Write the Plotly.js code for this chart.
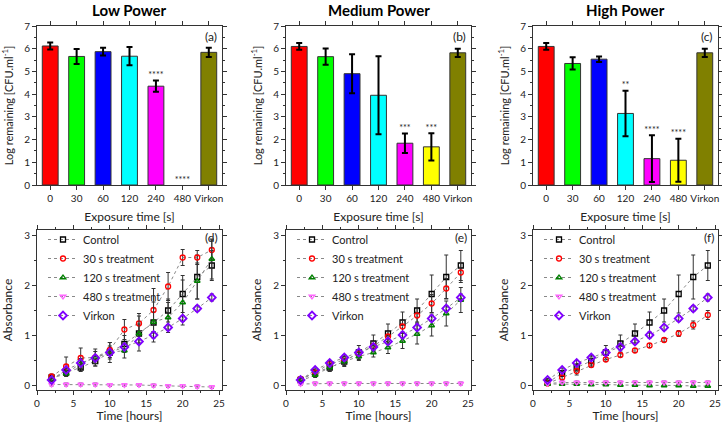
<!DOCTYPE html>
<html>
<head>
<meta charset="utf-8">
<script src="https://cdn.plot.ly/plotly-3.0.1.min.js"></script>
<style>
  html, body { margin: 0; padding: 0; background: #fff; }
  #chart { width: 722px; height: 423px; }
</style>
</head>
<body>
<div id="chart"></div>
<script>
const categories = ["0", "30", "60", "120", "240", "480", "Virkon"];
const barColors = ["#ff0000", "#00ff00", "#0000ff", "#00ffff", "#ff00ff", "#ffff00", "#808000"];

const lowMean = [6.12, 5.66, 5.87, 5.67, 4.35, null, 5.84];
const lowErr = [0.15, 0.33, 0.17, 0.40, 0.25, null, 0.20];
const lowSig = ["", "", "", "", "****", "****", ""];

const medMean = [6.10, 5.65, 4.90, 3.95, 1.84, 1.68, 5.82];
const medErr = [0.15, 0.36, 0.86, 1.72, 0.43, 0.60, 0.18];
const medSig = ["", "", "", "", "***", "***", ""];

const highMean = [6.10, 5.35, 5.54, 3.15, 1.16, 1.09, 5.82];
const highErr = [0.15, 0.27, 0.12, 1.00, 1.03, 0.95, 0.18];
const highSig = ["", "", "", "**", "****", "****", ""];

const timeH = [2, 4, 6, 8, 10, 12, 14, 16, 18, 20, 22, 24];
const seriesNames = ["Control", "30 s treatment", "120 s treatment", "480 s treatment", "Virkon"];

// panel (d) low power
const ctrlD = [0.15, 0.25, 0.35, 0.48, 0.65, 0.82, 1.03, 1.25, 1.49, 1.82, 2.16, 2.39];
const ctrlDErr = [0.04, 0.06, 0.08, 0.10, 0.13, 0.17, 0.19, 0.21, 0.23, 0.37, 0.44, 0.30];
const t30D = [0.17, 0.37, 0.54, 0.55, 0.70, 1.11, 1.23, 1.50, 1.97, 2.55, 2.55, 2.70];
const t30DErr = [0.05, 0.19, 0.20, 0.17, 0.15, 0.20, 0.20, 0.43, 0.28, 0.16, 0.14, 0.20];
const t120D = [0.13, 0.23, 0.43, 0.55, 0.65, 0.69, 1.03, 1.26, 1.35, 1.65, 2.08, 2.52];
const t120DErr = [0.04, 0.06, 0.10, 0.12, 0.20, 0.15, 0.35, 0.40, 0.30, 0.45, 0.36, 0.40];
const t480D = [0.01, 0.01, 0.01, 0.01, 0.00, 0.00, 0.00, -0.01, -0.02, -0.02, -0.03, -0.04];
const t480DErr = [0.03, 0.03, 0.03, 0.03, 0.03, 0.03, 0.03, 0.03, 0.03, 0.03, 0.03, 0.03];
const virD = [0.10, 0.30, 0.44, 0.54, 0.65, 0.76, 0.87, 1.00, 1.15, 1.33, 1.53, 1.75];
const virDErr = [0.03, 0.04, 0.05, 0.05, 0.06, 0.06, 0.06, 0.06, 0.06, 0.06, 0.06, 0.07];

// panel (e) medium power
const ctrlE = [0.10, 0.25, 0.35, 0.47, 0.65, 0.83, 1.03, 1.25, 1.49, 1.82, 2.16, 2.39];
const ctrlEErr = [0.04, 0.06, 0.08, 0.10, 0.14, 0.17, 0.19, 0.21, 0.23, 0.38, 0.44, 0.30];
const t30E = [0.12, 0.25, 0.42, 0.50, 0.62, 0.78, 0.97, 1.17, 1.39, 1.63, 1.93, 2.25];
const t30EErr = [0.04, 0.05, 0.06, 0.07, 0.08, 0.09, 0.10, 0.12, 0.15, 0.18, 0.20, 0.20];
const t120E = [0.08, 0.20, 0.35, 0.47, 0.57, 0.65, 0.75, 0.88, 1.02, 1.19, 1.43, 1.70];
const t120EErr = [0.04, 0.05, 0.07, 0.08, 0.08, 0.09, 0.12, 0.15, 0.20, 0.21, 0.25, 0.25];
const t480E = [0.02, 0.03, 0.03, 0.03, 0.03, 0.03, 0.03, 0.03, 0.03, 0.03, 0.03, 0.03];
const t480EErr = [0.03, 0.03, 0.03, 0.03, 0.03, 0.03, 0.03, 0.03, 0.03, 0.03, 0.03, 0.03];
const virE = [0.10, 0.30, 0.44, 0.55, 0.65, 0.76, 0.87, 1.00, 1.15, 1.33, 1.53, 1.75];
const virEErr = [0.03, 0.04, 0.05, 0.05, 0.06, 0.06, 0.06, 0.06, 0.06, 0.06, 0.06, 0.07];

// panel (f) high power
const ctrlF = [0.05, 0.23, 0.35, 0.48, 0.65, 0.83, 1.03, 1.25, 1.49, 1.82, 2.16, 2.39];
const ctrlFErr = [0.04, 0.06, 0.08, 0.10, 0.14, 0.17, 0.19, 0.21, 0.23, 0.38, 0.44, 0.30];
const t30F = [0.03, 0.15, 0.28, 0.40, 0.51, 0.60, 0.69, 0.79, 0.90, 1.03, 1.20, 1.40];
const t30FErr = [0.03, 0.05, 0.08, 0.05, 0.04, 0.04, 0.04, 0.04, 0.04, 0.06, 0.08, 0.09];
const t120F = [0.02, 0.02, 0.02, 0.01, 0.01, 0.00, 0.00, -0.01, -0.01, -0.01, -0.02, -0.02];
const t120FErr = [0.02, 0.02, 0.02, 0.02, 0.02, 0.02, 0.02, 0.02, 0.02, 0.02, 0.02, 0.02];
const t480F = [0.03, 0.05, 0.05, 0.05, 0.05, 0.05, 0.05, 0.05, 0.05, 0.05, 0.05, 0.05];
const t480FErr = [0.03, 0.03, 0.03, 0.03, 0.03, 0.03, 0.03, 0.03, 0.03, 0.03, 0.03, 0.03];
const virF = [0.10, 0.30, 0.44, 0.55, 0.65, 0.76, 0.87, 1.00, 1.15, 1.33, 1.53, 1.75];
const virFErr = [0.03, 0.04, 0.05, 0.05, 0.06, 0.06, 0.06, 0.06, 0.06, 0.06, 0.06, 0.07];

const FONT = "Lato, 'Open Sans', sans-serif";
const W = 722, H = 423;
const colX = [[37, 222], [286, 471], [533, 718]];
const topY = [26, 185];
const botY = [230, 390];

function xDom(i) { return [colX[i][0] / W, colX[i][1] / W]; }
function yDom(r) { return [(H - r[1]) / H, (H - r[0]) / H]; }

const markerStyles = [
    { symbol: "square-open", color: "#000000", size: 5, lw: 1.3 },
    { symbol: "circle-open", color: "#ff0000", size: 5, lw: 1.3 },
    { symbol: "triangle-up-open", color: "#008000", size: 5, lw: 1.3 },
    { symbol: "triangle-down-open", color: "#ff66ff", size: 5, lw: 1.3 },
    { symbol: "diamond-open", color: "#8000ff", size: 6, lw: 1.8 }
];

const panels = [
    { mean: lowMean, err: lowErr, sig: lowSig, title: "Low Power", label: "(a)",
      lines: [[ctrlD, ctrlDErr], [t30D, t30DErr], [t120D, t120DErr], [t480D, t480DErr], [virD, virDErr]], blabel: "(d)" },
    { mean: medMean, err: medErr, sig: medSig, title: "Medium Power", label: "(b)",
      lines: [[ctrlE, ctrlEErr], [t30E, t30EErr], [t120E, t120EErr], [t480E, t480EErr], [virE, virEErr]], blabel: "(e)" },
    { mean: highMean, err: highErr, sig: highSig, title: "High Power", label: "(c)",
      lines: [[ctrlF, ctrlFErr], [t30F, t30FErr], [t120F, t120FErr], [t480F, t480FErr], [virF, virFErr]], blabel: "(f)" }
];

const traces = [];
const annotations = [];
const layout = {
    width: W,
    height: H,
    margin: { l: 0, r: 0, t: 0, b: 0 },
    paper_bgcolor: "#ffffff",
    plot_bgcolor: "#ffffff",
    font: { family: FONT, size: 10, color: "#222" },
    showlegend: true,
    annotations: annotations
};

const axisCommon = {
    showline: true,
    linecolor: "#333",
    linewidth: 1,
    mirror: "allticks",
    ticks: "outside",
    ticklen: 4,
    tickcolor: "#333",
    showgrid: false,
    zeroline: false,
    tickfont: { family: FONT, size: 10, color: "#222" }
};

panels.forEach((p, i) => {
    const topXRef = i === 0 ? "x" : "x" + (i + 1);
    const topYRef = i === 0 ? "y" : "y" + (i + 1);
    const botX = "x" + (i + 4), botYa = "y" + (i + 4);
    const topXKey = i === 0 ? "xaxis" : "xaxis" + (i + 1);
    const topYKey = i === 0 ? "yaxis" : "yaxis" + (i + 1);
    const botXKey = "xaxis" + (i + 4);
    const botYKey = "yaxis" + (i + 4);

    traces.push({
        type: "bar",
        x: categories,
        y: p.mean,
        xaxis: topXRef,
        yaxis: topYRef,
        width: 0.6,
        marker: { color: barColors, line: { color: "#333", width: 1 } },
        error_y: { type: "data", array: p.err, visible: true, color: "#000", thickness: 2, width: 3 },
        showlegend: false,
        hoverinfo: "skip"
    });

    // significance stars above each bar's error bar
    const sigX = [], sigY = [], sigT = [];
    p.sig.forEach((s, k) => {
        if (!s) return;
        sigX.push(categories[k]);
        sigY.push((p.mean[k] || 0) + (p.err[k] || 0));
        sigT.push(s);
    });
    traces.push({
        type: "scatter",
        mode: "text",
        x: sigX,
        y: sigY,
        text: sigT,
        textposition: "top center",
        textfont: { family: FONT, size: 9, color: "#222" },
        xaxis: topXRef,
        yaxis: topYRef,
        showlegend: false,
        cliponaxis: false,
        hoverinfo: "skip"
    });

    layout[topXKey] = Object.assign({}, axisCommon, {
        domain: xDom(i),
        anchor: topYRef,
        type: "category",
        range: [-0.5, 6.5],
        title: { text: "Exposure time [s]", font: { family: FONT, size: 12, color: "#222" }, standoff: 9 }
    });
    layout[topYKey] = Object.assign({}, axisCommon, {
        domain: yDom(topY),
        anchor: topXRef,
        range: [0, 7],
        dtick: 1,
        minor: { dtick: 0.5, ticks: "outside", ticklen: 2, tickcolor: "#333" },
        title: { text: "Log remaining [CFU.ml<sup>-1</sup>]", font: { family: FONT, size: 11, color: "#222" }, standoff: 8 }
    });

    annotations.push({
        xref: "paper", yref: "paper",
        x: (colX[i][0] + colX[i][1]) / 2 / W, y: (H - 10) / H,
        xanchor: "center", yanchor: "middle",
        text: "<b>" + p.title + "</b>",
        showarrow: false,
        font: { family: FONT, size: 15, color: "#000" }
    });
    annotations.push({
        xref: "paper", yref: "paper",
        x: (colX[i][1] - 3) / W, y: (H - 36) / H,
        xanchor: "right", yanchor: "middle",
        text: p.label, showarrow: false,
        font: { family: FONT, size: 12, color: "#222" }
    });

    const legendKey = i === 0 ? "legend" : "legend" + (i + 1);
    p.lines.forEach((ln, k) => {
        const ms = markerStyles[k];
        traces.push({
            type: "scatter",
            mode: "lines+markers",
            name: seriesNames[k],
            x: timeH,
            y: ln[0],
            xaxis: botX,
            yaxis: botYa,
            legend: legendKey,
            line: { color: "#888", width: 1, dash: "dot" },
            marker: {
                symbol: ms.symbol,
                size: ms.size,
                color: ms.color,
                line: { color: ms.color, width: ms.lw }
            },
            error_y: {
                type: "data", array: ln[1], visible: true,
                color: k === 3 ? "#803080" : "#333", thickness: 1, width: 2
            },
            hoverinfo: "skip"
        });
    });

    layout[botXKey] = Object.assign({}, axisCommon, {
        domain: xDom(i),
        anchor: botYa,
        range: [0, 25.4],
        dtick: 5,
        minor: { dtick: 2.5, ticks: "outside", ticklen: 2, tickcolor: "#333" },
        title: { text: "Time [hours]", font: { family: FONT, size: 12, color: "#222" }, standoff: 8 }
    });
    layout[botYKey] = Object.assign({}, axisCommon, {
        domain: yDom(botY),
        anchor: botX,
        range: [-0.1, 3.1],
        dtick: 1,
        minor: { dtick: 0.5, ticks: "outside", ticklen: 2, tickcolor: "#333" },
        title: { text: "Absorbance", font: { family: FONT, size: 12, color: "#222" }, standoff: 8 }
    });

    layout[legendKey] = {
        x: (colX[i][0] + 6) / W,
        y: (H - botY[0] + 5) / H,
        xanchor: "left",
        yanchor: "top",
        bgcolor: "rgba(0,0,0,0)",
        borderwidth: 0,
        itemwidth: 30,
        font: { family: FONT, size: 11, color: "#222" }
    };
    annotations.push({
        xref: "paper", yref: "paper",
        x: (colX[i][1] - 2) / W, y: (H - 238) / H,
        xanchor: "right", yanchor: "middle",
        text: p.blabel, showarrow: false,
        font: { family: FONT, size: 12, color: "#222" }
    });
});

Plotly.newPlot("chart", traces, layout, { staticPlot: true });
</script>
</body>
</html>
